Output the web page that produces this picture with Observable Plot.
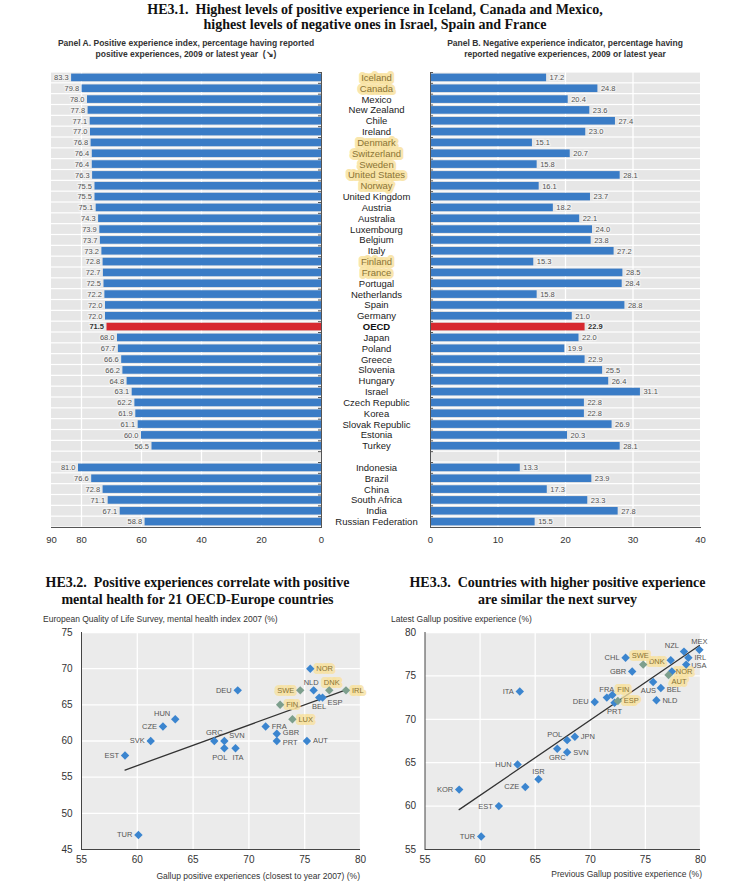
<!DOCTYPE html>
<html><head><meta charset="utf-8">
<script src="https://cdn.jsdelivr.net/npm/d3@7"></script>
<script src="https://cdn.jsdelivr.net/npm/@observablehq/plot@0.6"></script>
<style>
body{margin:0;background:#fff;}
#root{position:relative;width:750px;height:889px;overflow:hidden;}
.abs{position:absolute;}
.title{font-family:"Liberation Serif","DejaVu Serif",serif;font-weight:bold;font-size:14px;color:#111;text-align:center;}
.sub{font-family:"Liberation Sans",Arial,sans-serif;font-weight:bold;font-size:8.5px;color:#333;text-align:center;line-height:11px;}
.axl{font-family:"Liberation Sans",Arial,sans-serif;font-size:8.5px;color:#333;white-space:nowrap;}
</style></head>
<body><div id="root">
<div class="abs title" style="left:0;top:2px;width:750px;line-height:15px;">HE3.1.&nbsp; Highest levels of positive experience in Iceland, Canada and Mexico,<br>highest levels of negative ones in Israel, Spain and France</div>
<div class="abs sub" style="left:30px;top:38px;width:312px;">Panel A. Positive experience index, percentage having reported<br>positive experiences, 2009 or latest year&nbsp; (↘)</div>
<div class="abs sub" style="left:420px;top:38px;width:290px;">Panel B. Negative experience indicator, percentage having<br>reported negative experiences, 2009 or latest year</div>
<div class="abs title" style="left:20px;top:574px;width:355px;line-height:17px;">HE3.2.&nbsp; Positive experiences correlate with positive<br>mental health for 21 OECD-Europe countries</div>
<div class="abs title" style="left:380px;top:574px;width:355px;line-height:17px;">HE3.3.&nbsp; Countries with higher positive experience<br>are similar the next survey</div>
<div class="abs axl" style="left:43px;top:614px;">European Quality of Life Survey, mental health index 2007 (%)</div>
<div class="abs axl" style="left:391px;top:614px;">Latest Gallup positive experience (%)</div>
<div class="abs axl" style="right:390px;top:871px;">Gallup positive experiences (closest to year 2007) (%)</div>
<div class="abs axl" style="right:48px;top:869px;">Previous Gallup positive experience (%)</div>
</div>
<script>
// ---------- Data: HE3.1 ----------
const countries = ["Iceland","Canada","Mexico","New Zealand","Chile","Ireland","Denmark","Switzerland","Sweden","United States","Norway","United Kingdom","Austria","Australia","Luxembourg","Belgium","Italy","Finland","France","Portugal","Netherlands","Spain","Germany","OECD","Japan","Poland","Greece","Slovenia","Hungary","Israel","Czech Republic","Korea","Slovak Republic","Estonia","Turkey","Indonesia","Brazil","China","South Africa","India","Russian Federation"];
const positive = [83.3,79.8,78.0,77.8,77.1,77.0,76.8,76.4,76.4,76.3,75.5,75.5,75.1,74.3,73.9,73.7,73.2,72.8,72.7,72.5,72.2,72.0,72.0,71.5,68.0,67.7,66.6,66.2,64.8,63.1,62.2,61.9,61.1,60.0,56.5,81.0,76.6,72.8,71.1,67.1,58.8];
const negative = [17.2,24.8,20.4,23.6,27.4,23.0,15.1,20.7,15.8,28.1,16.1,23.7,18.2,22.1,24.0,23.8,27.2,15.3,28.5,28.4,15.8,28.8,21.0,22.9,22.0,19.9,22.9,25.5,26.4,31.1,22.8,22.8,26.9,20.3,28.1,13.3,23.9,17.3,23.3,27.8,15.5];
const highlighted = ["Iceland","Canada","Denmark","Switzerland","Sweden","United States","Norway","Finland","France"];
const gapAfter = "Turkey";
const ticksA = [90,80,60,40,20,0];
const ticksB = [0,10,20,30,40];

// ---------- Data: HE3.2 ----------
const codes32 = ["DEU","HUN","CZE","SVK","EST","GRC","SVN","POL","ITA","TUR","FRA","GBR","PRT","AUT","LUX","FIN","SWE","NLD","NOR","DNK","IRL","BEL","ESP"];
const gallup32 = [69.0,63.4,62.3,61.2,58.9,66.9,67.8,67.8,68.8,60.1,71.5,72.5,72.5,75.2,73.9,72.8,74.6,75.8,75.5,77.2,78.7,76.3,76.6];
const mental32 = [67,63,62,60,58,60,60,59,59,47,62,61,60,60,63,65,67,67,70,67,67,66,66];
const hl32 = ["NOR","SWE","FIN","DNK","IRL","LUX"];
const tint32 = ["SWE","FIN","DNK","IRL","LUX"];
const xTicks32 = [55,60,65,70,75,80];
const yTicks32 = [45,50,55,60,65,70,75];

// ---------- Data: HE3.3 ----------
const codes33 = ["MEX","NZL","IRL","USA","DNK","NOR","AUT","SWE","CHL","GBR","AUS","BEL","NLD","ITA","FRA","FIN","ESP","PRT","DEU","POL","JPN","GRC","SVN","HUN","ISR","CZE","KOR","EST","TUR"];
const previous33 = [79.9,78.5,78.9,78.7,77.3,77.4,77.1,74.8,73.2,73.8,75.7,76.4,76.0,63.6,71.5,72.0,72.5,72.2,70.4,67.9,68.6,67.0,67.9,63.4,65.3,64.1,58.1,61.7,60.1];
const latest33 = [78.0,77.8,77.1,76.3,76.8,75.5,75.1,76.3,77.1,75.5,74.3,73.6,72.2,73.2,72.5,72.8,72.1,71.9,72.0,67.6,68.0,66.6,66.2,64.8,63.1,62.2,61.9,60.0,56.5];
const hl33 = ["SWE","DNK","NOR","AUT","FIN","ESP"];
const tint33 = ["SWE","AUT","ESP"];
const xTicks33 = [55,60,65,70,75,80];
const yTicks33 = [55,60,65,70,75,80];

// label placement (style, kept apart from data)
const place32 = {DEU:"L",HUN:"TL",CZE:"L",SVK:"L",EST:"L",GRC:"T",SVN:"TR",POL:"BL",ITA:"BR2",TUR:"L",FRA:"R",GBR:"Ru",PRT:"Rd",AUT:"R",LUX:"R",FIN:"R",SWE:"L",NLD:"Tl",NOR:"R",DNK:"Tr",IRL:"R",BEL:"B",ESP:"BR"};
const place33 = {MEX:"T",NZL:"TL",IRL:"R",USA:"R2",DNK:"L2",NOR:"R3",AUT:"BA",SWE:"T2",CHL:"L",GBR:"L",AUS:"BL",BEL:"Rd",NLD:"R",ITA:"L",FRA:"T",FIN:"TR",ESP:"R",PRT:"B",DEU:"L",POL:"TL",JPN:"R",GRC:"B",SVN:"R",HUN:"L",ISR:"T",CZE:"L",KOR:"L",EST:"L",TUR:"L"};
const offsets = {
  L:{dx:-6,dy:0,textAnchor:"end"}, R:{dx:6,dy:0,textAnchor:"start"},
  Ru:{dx:6,dy:-1.5,textAnchor:"start"}, Rd:{dx:6,dy:1.5,textAnchor:"start"},
  L2:{dx:-6,dy:1,textAnchor:"end"}, R2:{dx:5,dy:1,textAnchor:"start"}, R3:{dx:4,dy:0.5,textAnchor:"start"},
  T:{dx:0,dy:-8,textAnchor:"middle"}, T2:{dx:-3,dy:-9,textAnchor:"middle"}, B:{dx:0,dy:9,textAnchor:"middle"},
  Tl:{dx:-2.5,dy:-8,textAnchor:"middle"}, Tr:{dx:2.5,dy:-8,textAnchor:"middle"},
  TL:{dx:-5,dy:-6,textAnchor:"end"}, TR:{dx:5,dy:-5,textAnchor:"start"},
  BR:{dx:5,dy:5,textAnchor:"start"}, BL:{dx:3,dy:9,textAnchor:"end"},
  BR2:{dx:-3,dy:9,textAnchor:"start"}, BA:{dx:3,dy:7,textAnchor:"start"}
};

// ---------- Styles ----------
const sans = '"Liberation Sans",Arial,sans-serif';
const blue = "#3a7cc6", red = "#d7282f", grey = "#e6e6e6", hlCol = "#f8e2a0";
const dotBlue = "#3b85cf", dotTint = "#7d9f8d", hlText = "#8a7436";

// ---------- HE3.1 ----------
const gi = countries.indexOf(gapAfter) + 1;
const rows = [...countries.slice(0, gi), " ", ...countries.slice(gi)];
const table = countries.map((c, i) => ({country: c, pos: positive[i], neg: negative[i], oecd: c === "OECD", hl: highlighted.includes(c)}));
const rowH = 455 / rows.length;

const common = {
  height: 497, marginTop: 7, marginBottom: 35,
  style: {fontFamily: sans, fontSize: "9.5px", color: "#333", background: "transparent", overflow: "visible"},
};
const lab = {y: "country", frameAnchor: "right", dx: 55, text: "country", textAnchor: "middle", fontSize: 9.5, letterSpacing: "0.35px"};

const plotA = Plot.plot({
  ...common, width: 430, marginLeft: 51, marginRight: 109,
  x: {domain: [90, 0], ticks: ticksA, tickSize: 0, tickPadding: 9, label: null},
  y: {domain: rows, padding: 0, axis: null},
  marks: [
    Plot.barX(rows, {y: d => d, x1: 90, x2: 0, fill: grey, insetTop: 0.6, insetBottom: 0.6}),
    Plot.ruleX(ticksA.filter(t => t > 0 && t < 90), {stroke: "white", strokeWidth: 1.3}),
    Plot.barX(table.filter(d => !d.oecd), {y: "country", x: "pos", fill: blue, insetTop: 1.6, insetBottom: 1.6}),
    Plot.barX(table.filter(d => d.oecd), {y: "country", x: "pos", fill: red, insetTop: 1.6, insetBottom: 1.6}),
    Plot.ruleX([0], {stroke: "#555"}),
    Plot.ruleY(rows, {y: d => d, x1: 0, x2: 1, dy: -rowH / 2, stroke: "#555"}),
    Plot.frame({anchor: "bottom", stroke: "#555"}),
    Plot.text(table.filter(d => !d.oecd), {y: "country", x: "pos", text: d => d.pos.toFixed(1), dx: -3, textAnchor: "end", fontSize: 7.5, fill: "#555", stroke: "#f1f1f1", strokeWidth: 2.5}),
    Plot.text(table.filter(d => d.oecd), {y: "country", x: "pos", text: d => d.pos.toFixed(1), dx: -3, textAnchor: "end", fontSize: 7.5, fontWeight: "bold", fill: "#333", stroke: "#f1f1f1", strokeWidth: 2.5}),
    Plot.text(table.filter(d => d.hl), {...lab, fill: hlText, stroke: hlCol, strokeWidth: 6, strokeOpacity: 0.85}),
    Plot.text(table.filter(d => !d.hl && !d.oecd), {...lab, fill: "#222"}),
    Plot.text(table.filter(d => d.oecd), {...lab, fontWeight: "bold", fill: "#111"})
  ]
});

const plotB = Plot.plot({
  ...common, width: 330, marginLeft: 10, marginRight: 50,
  x: {domain: [0, 40], ticks: ticksB, tickSize: 0, tickPadding: 9, label: null},
  y: {domain: rows, padding: 0, axis: null},
  marks: [
    Plot.barX(rows, {y: d => d, x1: 0, x2: 40, fill: grey, insetTop: 0.6, insetBottom: 0.6}),
    Plot.ruleX(ticksB.filter(t => t > 0 && t < 40), {stroke: "white", strokeWidth: 1.3}),
    Plot.barX(table.filter(d => !d.oecd), {y: "country", x: "neg", fill: blue, insetTop: 1.6, insetBottom: 1.6}),
    Plot.barX(table.filter(d => d.oecd), {y: "country", x: "neg", fill: red, insetTop: 1.6, insetBottom: 1.6}),
    Plot.ruleX([0], {stroke: "#555"}),
    Plot.ruleY(rows, {y: d => d, x1: 0, x2: 0.45, dy: -rowH / 2, stroke: "#555"}),
    Plot.frame({anchor: "bottom", stroke: "#555"}),
    Plot.text(table.filter(d => !d.oecd), {y: "country", x: "neg", text: d => d.neg.toFixed(1), dx: 3, textAnchor: "start", fontSize: 7.5, fill: "#555", stroke: "#f1f1f1", strokeWidth: 2.5}),
    Plot.text(table.filter(d => d.oecd), {y: "country", x: "neg", text: d => d.neg.toFixed(1), dx: 3, textAnchor: "start", fontSize: 7.5, fontWeight: "bold", fill: "#333", stroke: "#f1f1f1", strokeWidth: 2.5})
  ]
});

// ---------- scatter helper ----------
function scatter({codes, xs, ys, hl, tint, place, xTicks, yTicks, width, marginLeft, marginRight}) {
  const data = codes.map((c, i) => ({code: c, x: xs[i], y: ys[i], hl: hl.includes(c), tint: tint.includes(c), p: place[c]}));
  const labelMarks = Object.entries(offsets).flatMap(([k, o]) => [
    Plot.text(data.filter(d => d.p === k && d.hl), {x: "x", y: "y", text: "code", ...o, fontSize: 7.5, fill: hlText, stroke: hlCol, strokeWidth: 6, strokeOpacity: 0.8, letterSpacing: "0.3px"}),
    Plot.text(data.filter(d => d.p === k && !d.hl), {x: "x", y: "y", text: "code", ...o, fontSize: 7.5, fill: "#555", letterSpacing: "0.3px"})
  ]);
  return Plot.plot({
    width, height: 262, marginLeft, marginRight, marginTop: 12, marginBottom: 33,
    style: {fontFamily: sans, fontSize: "10px", color: "#333", background: "transparent", overflow: "visible"},
    x: {domain: [xTicks[0], xTicks[xTicks.length - 1]], ticks: xTicks, tickSize: 0, tickPadding: 6, label: null},
    y: {domain: [yTicks[0], yTicks[yTicks.length - 1]], ticks: yTicks, tickSize: 0, tickPadding: 9, label: null},
    marks: [
      Plot.frame({fill: "#ebebeb", stroke: null}),
      Plot.ruleX(xTicks.slice(1), {stroke: "white", strokeWidth: 1.3}),
      Plot.ruleY(yTicks.slice(1), {stroke: "white", strokeWidth: 1.3}),
      Plot.ruleX([xTicks[0]], {stroke: "#444"}),
      Plot.ruleY([yTicks[0]], {stroke: "#444"}),
      Plot.linearRegressionY(data, {x: "x", y: "y", stroke: "#333", strokeWidth: 1.3, ci: 0}),
      ...labelMarks,
      Plot.dot(data.filter(d => !d.tint), {x: "x", y: "y", symbol: "diamond2", r: 3.8, fill: dotBlue, stroke: null}),
      Plot.dot(data.filter(d => d.tint), {x: "x", y: "y", symbol: "diamond2", r: 3.8, fill: dotTint, stroke: null})
    ]
  });
}

const plot32 = scatter({codes: codes32, xs: gallup32, ys: mental32, hl: hl32, tint: tint32, place: place32, xTicks: xTicks32, yTicks: yTicks32, width: 370, marginLeft: 81, marginRight: 10});
const plot33 = scatter({codes: codes33, xs: previous33, ys: latest33, hl: hl33, tint: tint33, place: place33, xTicks: xTicks33, yTicks: yTicks33, width: 370, marginLeft: 44.5, marginRight: 50});

const root = document.getElementById("root");
function put(el, left, top) { el.style.position = "absolute"; el.style.left = left + "px"; el.style.top = top + "px"; root.appendChild(el); }
put(plotA, 0, 65);
put(plotB, 420, 65);
put(plot32, 0, 620);
put(plot33, 380, 620);
</script>
</body></html>
